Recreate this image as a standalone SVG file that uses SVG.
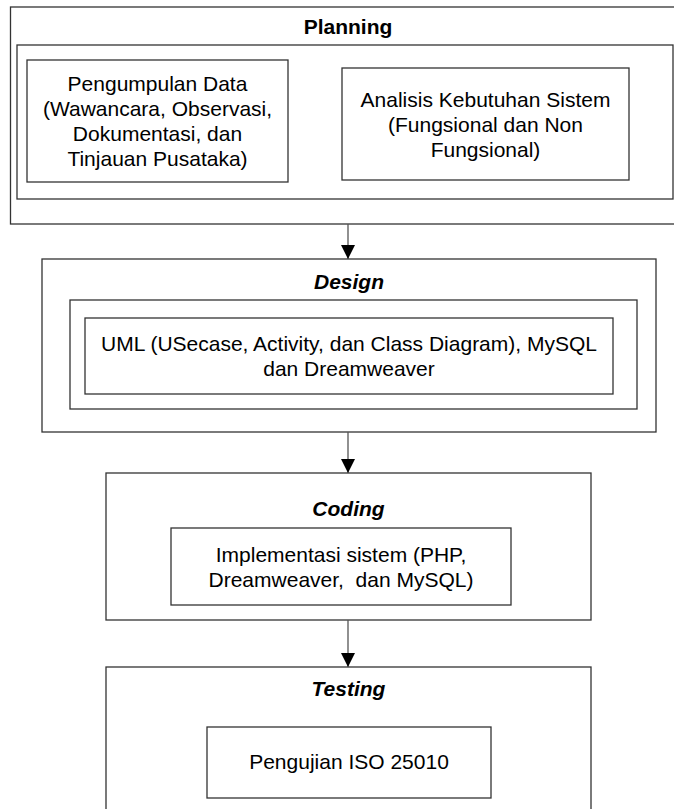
<svg xmlns="http://www.w3.org/2000/svg" width="674" height="809" viewBox="0 0 674 809">
  <style>
    .box { fill: none; stroke: #333; stroke-width: 1.3; }
    .txt { font-family: "Liberation Sans", Arial, sans-serif; font-size: 21px; fill: #000; text-anchor: middle; }
    .ttl { font-family: "Liberation Sans", Arial, sans-serif; font-size: 21px; font-weight: bold; fill: #000; text-anchor: middle; }
    .it { font-style: italic; }
    .conn { stroke: #555; stroke-width: 1.3; fill: none; marker-end: url(#arrow); }
  </style>
  <defs>
    <marker id="arrow" viewBox="0 0 14 14" refX="14" refY="7" markerWidth="14" markerHeight="14" markerUnits="userSpaceOnUse" orient="auto">
      <path d="M0,0 L14,7 L0,14 Z" fill="#000"/>
    </marker>
  </defs>
  <rect width="674" height="809" fill="#fff"/>

  <!-- Planning stage -->
  <g id="planning">
    <rect class="box" x="10.5" y="7" width="680" height="217"/>
    <text class="ttl" x="348" y="34">Planning</text>
    <rect class="box" x="17" y="45" width="656" height="154"/>
    <g id="pengumpulan-data">
      <rect class="box" x="27" y="60" width="261" height="122"/>
      <text class="txt" x="157.5" y="91">Pengumpulan Data</text>
      <text class="txt" x="157.5" y="116">(Wawancara, Observasi,</text>
      <text class="txt" x="157.5" y="141">Dokumentasi, dan</text>
      <text class="txt" x="157.5" y="166">Tinjauan Pusataka)</text>
    </g>
    <g id="analisis-kebutuhan">
      <rect class="box" x="342" y="68" width="287" height="112"/>
      <text class="txt" x="485.5" y="107">Analisis Kebutuhan Sistem</text>
      <text class="txt" x="485.5" y="132">(Fungsional dan Non</text>
      <text class="txt" x="485.5" y="157">Fungsional)</text>
    </g>
  </g>

  <!-- Design stage -->
  <g id="design">
    <rect class="box" x="42" y="259" width="614" height="173"/>
    <text class="ttl it" x="349" y="289">Design</text>
    <rect class="box" x="70" y="300" width="567" height="109"/>
    <rect class="box" x="85" y="318" width="528" height="76"/>
    <text class="txt" x="349" y="351">UML (USecase, Activity, dan Class Diagram), MySQL</text>
    <text class="txt" x="349" y="376">dan Dreamweaver</text>
  </g>

  <!-- Coding stage -->
  <g id="coding">
    <rect class="box" x="106" y="473" width="485" height="147"/>
    <text class="ttl it" x="348.5" y="516">Coding</text>
    <rect class="box" x="171" y="528" width="340" height="77"/>
    <text class="txt" x="341" y="562">Implementasi sistem (PHP,</text>
    <text class="txt" x="341" y="587" xml:space="preserve">Dreamweaver,  dan MySQL)</text>
  </g>

  <!-- Testing stage -->
  <g id="testing">
    <rect class="box" x="106" y="667" width="485" height="160"/>
    <text class="ttl it" x="348.5" y="696">Testing</text>
    <rect class="box" x="207" y="727" width="284" height="71"/>
    <text class="txt" x="349" y="769">Pengujian ISO 25010</text>
  </g>

  <!-- Flow between stages -->
  <g id="connectors">
    <line class="conn" x1="348" y1="224" x2="348" y2="259"/>
    <line class="conn" x1="348" y1="432" x2="348" y2="473"/>
    <line class="conn" x1="348" y1="620" x2="348" y2="667"/>
  </g>
</svg>
